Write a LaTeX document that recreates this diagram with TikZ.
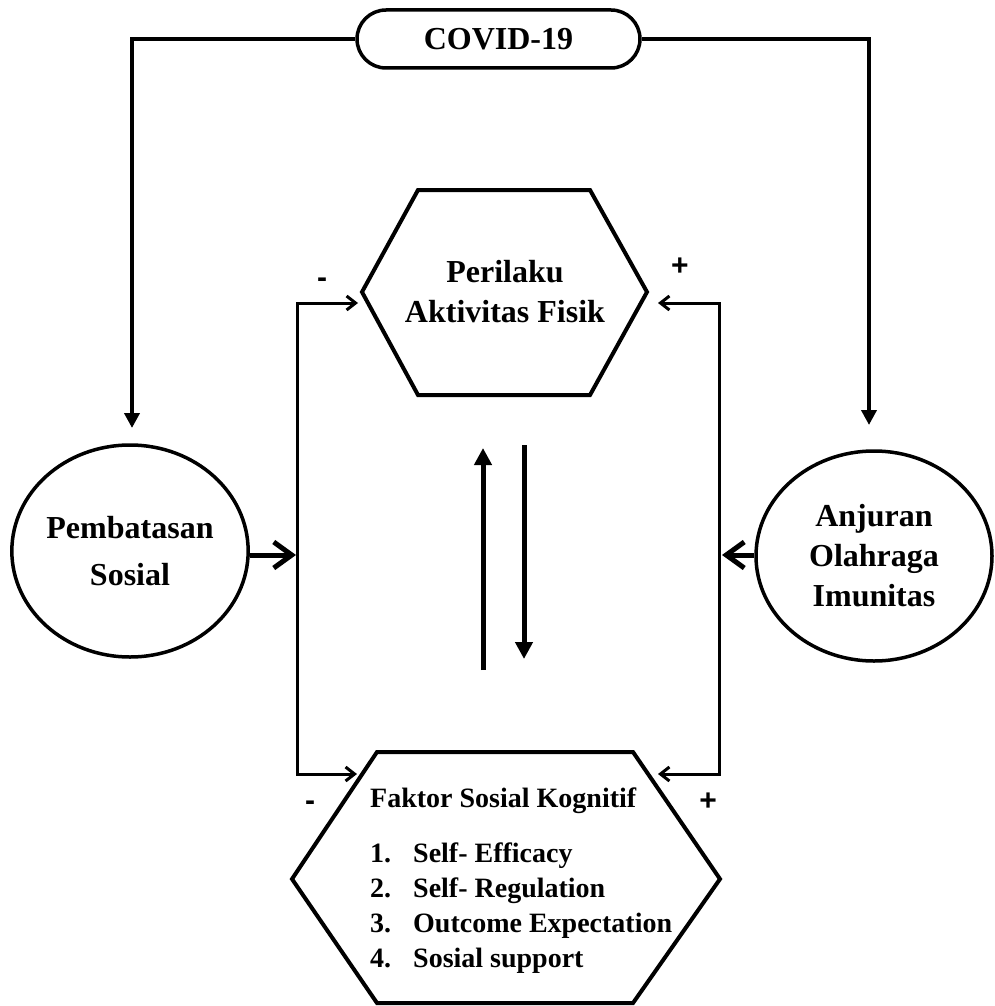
\documentclass[tikz,border=0pt]{standalone}
\usepackage{fontspec}
\setmainfont{Liberation Serif}
\newfontfamily\signfont{Liberation Sans}
\usetikzlibrary{arrows.meta,shapes.geometric}
\begin{document}
\begin{tikzpicture}[x=1pt,y=-1pt,
  big/.style={font=\fontsize{32}{40}\selectfont\bfseries},
  hexline/.style={line width=4pt, line join=miter},
  oval/.style={draw, ellipse, line width=3.5pt, inner sep=0pt, big, align=center},
  feed/.style={line width=4.5pt, -{Triangle[length=15pt,width=15pt]}},
  updown/.style={line width=5pt, -{Triangle[length=17pt,width=17pt]}},
  bracketline/.style={line width=3pt, line join=miter, {Straight Barb[length=9pt,width=14pt]}-{Straight Barb[length=9pt,width=14pt]}},
  pusharrow/.style={line width=5pt, -{Straight Barb[length=18pt,width=26pt]}},
  signlabel/.style={font=\signfont\fontsize{30}{34}\selectfont\bfseries, inner sep=0pt},
]
\useasboundingbox (0,0) rectangle (994,1006);

% COVID-19 box
\node[draw, rectangle, rounded corners=29pt, line width=3.5pt, minimum width=283pt, minimum height=58pt, inner sep=0pt, big] (covid) at (498.5,39) {COVID-19};

% top hexagon
\draw[hexline] (362,292) -- (418,190) -- (590,190) -- (647,292) -- (590,395) -- (418,395) -- cycle;
\node[big, align=center, inner sep=0pt] (perilaku) at (505,292) {Perilaku\\Aktivitas Fisik};

% bottom hexagon
\draw[hexline] (292,879) -- (377,752) -- (633,752) -- (720,879) -- (633,1003) -- (377,1003) -- cycle;
\node[anchor=base west, inner sep=0pt, font=\fontsize{28}{35.3}\selectfont\bfseries] (kognitif) at (370,807)
  {\begin{tabular}[t]{@{}l@{}}Faktor Sosial Kognitif\\[19.7pt]
   \makebox[43pt][l]{1.}Self- Efficacy\\
   \makebox[43pt][l]{2.}Self- Regulation\\
   \makebox[43pt][l]{3.}Outcome Expectation\\
   \makebox[43pt][l]{4.}Sosial support\end{tabular}};

% ellipses
\node[oval, minimum width=236pt, minimum height=212pt] (pemb) at (130,551) {Pembatasan\\[7pt]Sosial};
\node[oval, minimum width=236pt, minimum height=210pt] (anj) at (874,556) {Anjuran\\Olahraga\\Imunitas};

% coordinates
\coordinate (pembIn) at (132,428);
\coordinate (anjIn) at (869,425);
\coordinate (lt) at (297,303);
\coordinate (lb) at (297,774);
\coordinate (lm) at (296,555);
\coordinate (ptL) at (358,303);
\coordinate (ktL) at (357,774);
\coordinate (rt) at (719,303);
\coordinate (rb) at (719,774);
\coordinate (rm) at (722,555);
\coordinate (ptR) at (658,303);
\coordinate (ktR) at (658,774);
\coordinate (upS) at (483,670);
\coordinate (upE) at (483,448);
\coordinate (dnS) at (524,445);
\coordinate (dnE) at (524,659);

% connectors
\draw[feed] (covid.west) -| (pembIn);
\draw[feed] (covid.east) -| (anjIn);
\draw[bracketline] (ptL) -- (lt) -- (lb) -- (ktL);
\draw[bracketline] (ptR) -- (rt) -- (rb) -- (ktR);
\draw[pusharrow] (pemb.east |- lm) -- (lm);
\draw[pusharrow] (anj.west |- rm) -- (rm);
\draw[updown] (upS) -- (upE);
\draw[updown] (dnS) -- (dnE);

% signs
\node[signlabel] (m1) at (322,283) {-};
\node[signlabel] (p1) at (680,267) {+};
\node[signlabel] (m2) at (310,806) {-};
\node[signlabel] (p2) at (708,802) {+};
\end{tikzpicture}
\end{document}
